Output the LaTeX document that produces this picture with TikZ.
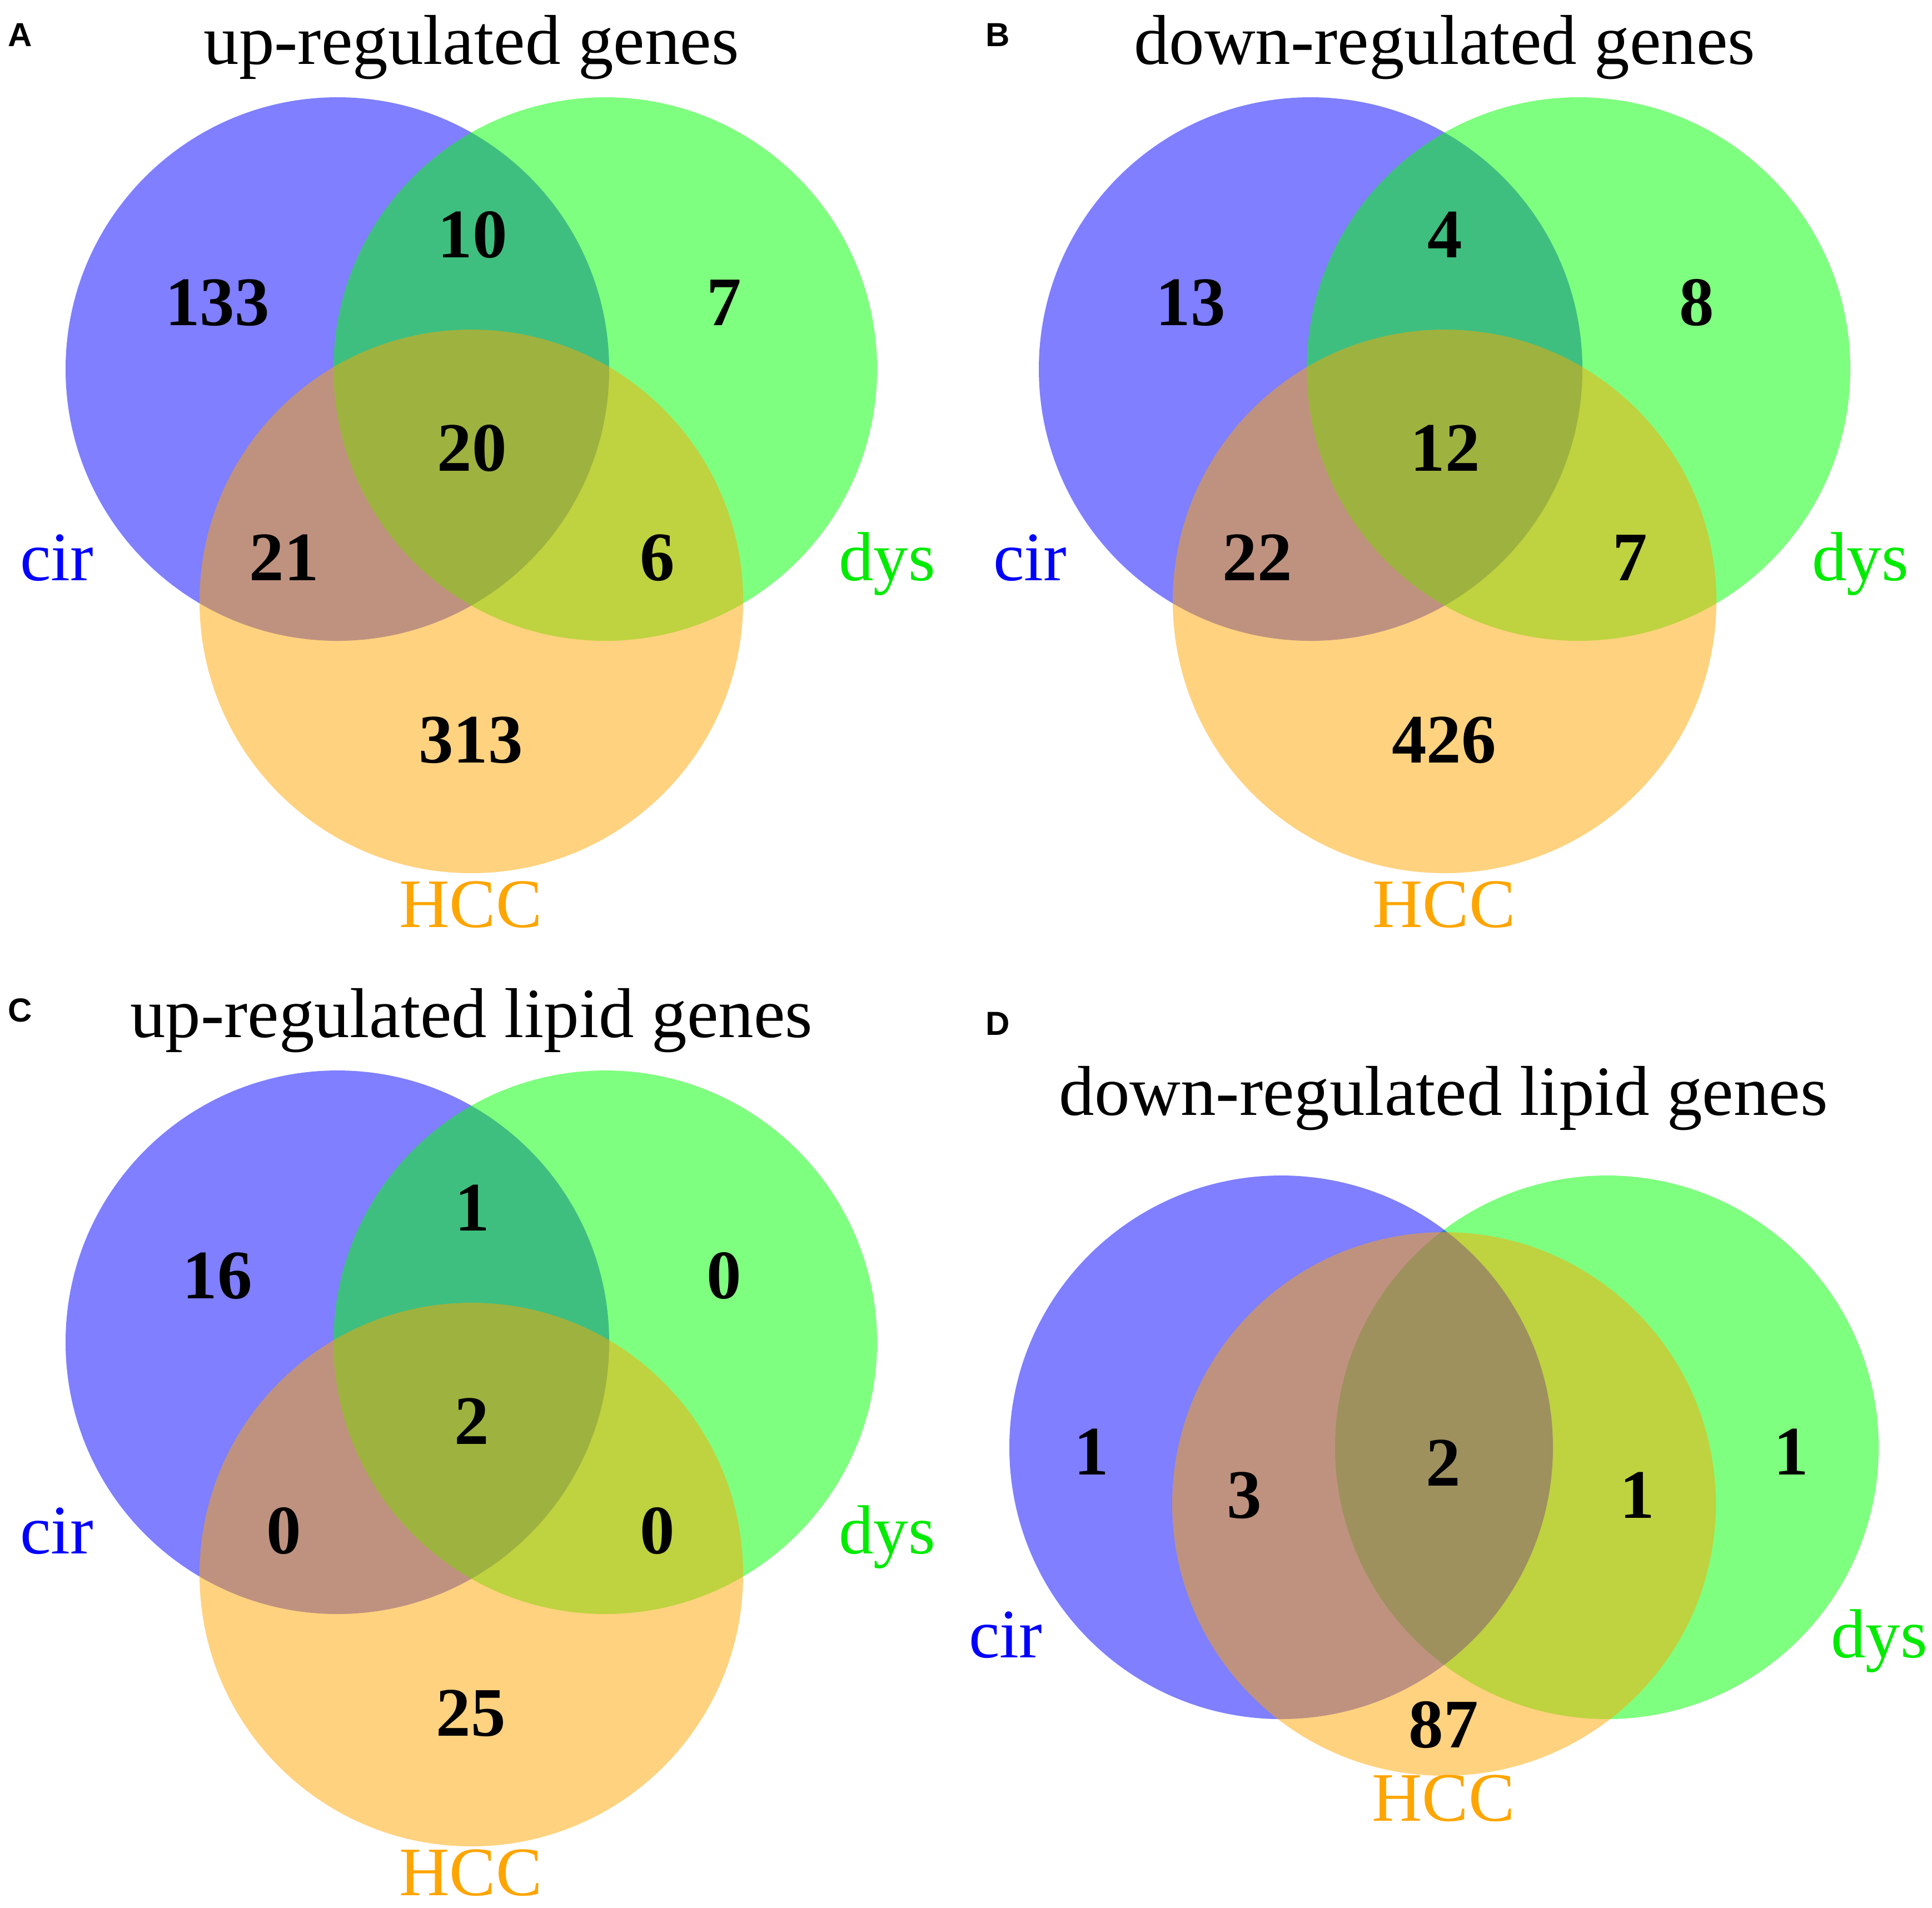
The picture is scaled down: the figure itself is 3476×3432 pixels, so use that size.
\documentclass[tikz,border=0pt]{standalone}
\usepackage{fontspec}
\setmainfont{Liberation Serif}
\newfontfamily\panelfont{Liberation Sans}
\definecolor{circ}{RGB}{0,0,255}
\definecolor{dysc}{RGB}{0,255,0}
\definecolor{hccc}{RGB}{255,165,0}
\definecolor{dystext}{RGB}{0,235,0}
\tikzset{
  setcir/.style={fill=circ, fill opacity=0.5},
  setdys/.style={fill=dysc, fill opacity=0.5},
  sethcc/.style={fill=hccc, fill opacity=0.5},
  num/.style={anchor=base, inner sep=0pt, font=\fontsize{25}{30}\selectfont\bfseries},
  ttl/.style={anchor=base, inner sep=0pt, font=\fontsize{25.4}{30}\selectfont},
  lab/.style={anchor=base, inner sep=0pt, font=\fontsize{25}{30}\selectfont},
  cirlab/.style={lab, text=circ},
  dyslab/.style={lab, text=dystext},
  hcclab/.style={lab, text=hccc},
  letter/.style={anchor=center, inner sep=0pt, font=\fontsize{12}{14}\selectfont\panelfont\bfseries},
}
\begin{document}
\begin{tikzpicture}[x=0.2pt,y=-0.2pt]
\useasboundingbox (0,0) rectangle (3476,3432);

% ---------------- Panel A ----------------
\fill[setcir] (607,664) circle[radius=489];
\fill[setdys] (1089,664) circle[radius=489];
\fill[sethcc] (848,1082) circle[radius=489];
\node[letter] (Alet) at (36,63) {A};
\node[ttl] (Attl) at (848,115) {up-regulated genes};
\node[num] (An1) at (391,585) {133};
\node[num] (An2) at (850,463) {10};
\node[num] (An3) at (1303,585) {7};
\node[num] (An4) at (849,847) {20};
\node[num] (An5) at (511,1044) {21};
\node[num] (An6) at (1183,1044) {6};
\node[num] (An7) at (847,1372) {313};
\node[cirlab] (Acir) at (102,1044) {cir};
\node[dyslab] (Adys) at (1596,1044) {dys};
\node[hcclab] (Ahcc) at (847,1668) {HCC};

% ---------------- Panel B ----------------
\fill[setcir] (2358,664) circle[radius=489];
\fill[setdys] (2840,664) circle[radius=489];
\fill[sethcc] (2599,1082) circle[radius=489];
\node[letter] (Blet) at (1795,63) {B};
\node[ttl] (Bttl) at (2599,115) {down-regulated genes};
\node[num] (Bn1) at (2142,585) {13};
\node[num] (Bn2) at (2600,463) {4};
\node[num] (Bn3) at (3053,585) {8};
\node[num] (Bn4) at (2600,847) {12};
\node[num] (Bn5) at (2262,1044) {22};
\node[num] (Bn6) at (2933,1044) {7};
\node[num] (Bn7) at (2598,1372) {426};
\node[cirlab] (Bcir) at (1853,1044) {cir};
\node[dyslab] (Bdys) at (3347,1044) {dys};
\node[hcclab] (Bhcc) at (2598,1668) {HCC};

% ---------------- Panel C ----------------
\fill[setcir] (607,2415) circle[radius=489];
\fill[setdys] (1089,2415) circle[radius=489];
\fill[sethcc] (848,2833) circle[radius=489];
\node[letter] (Clet) at (36,1818) {C};
\node[ttl] (Cttl) at (848,1866) {up-regulated lipid genes};
\node[num] (Cn1) at (391,2336) {16};
\node[num] (Cn2) at (850,2214) {1};
\node[num] (Cn3) at (1303,2336) {0};
\node[num] (Cn4) at (849,2598) {2};
\node[num] (Cn5) at (511,2795) {0};
\node[num] (Cn6) at (1183,2795) {0};
\node[num] (Cn7) at (847,3123) {25};
\node[cirlab] (Ccir) at (102,2795) {cir};
\node[dyslab] (Cdys) at (1596,2795) {dys};
\node[hcclab] (Chcc) at (847,3410) {HCC};

% ---------------- Panel D ----------------
\fill[setdys] (2891,2604) circle[radius=489];
\fill[setcir] (2305,2604) circle[radius=489];
\fill[sethcc] (2598,2706) circle[radius=489];
\node[letter] (Dlet) at (1795,1842) {D};
\node[ttl] (Dttl) at (2597,2006) {down-regulated lipid genes};
\node[num] (Dn1) at (1964,2653) {1};
\node[num] (Dn2) at (2239,2731) {3};
\node[num] (Dn3) at (2597,2673) {2};
\node[num] (Dn4) at (2946,2731) {1};
\node[num] (Dn5) at (3223,2653) {1};
\node[num] (Dn6) at (2597,3144) {87};
\node[cirlab] (Dcir) at (1809,2982) {cir};
\node[dyslab] (Ddys) at (3381,2982) {dys};
\node[hcclab] (Dhcc) at (2597,3276) {HCC};
\end{tikzpicture}
\end{document}
